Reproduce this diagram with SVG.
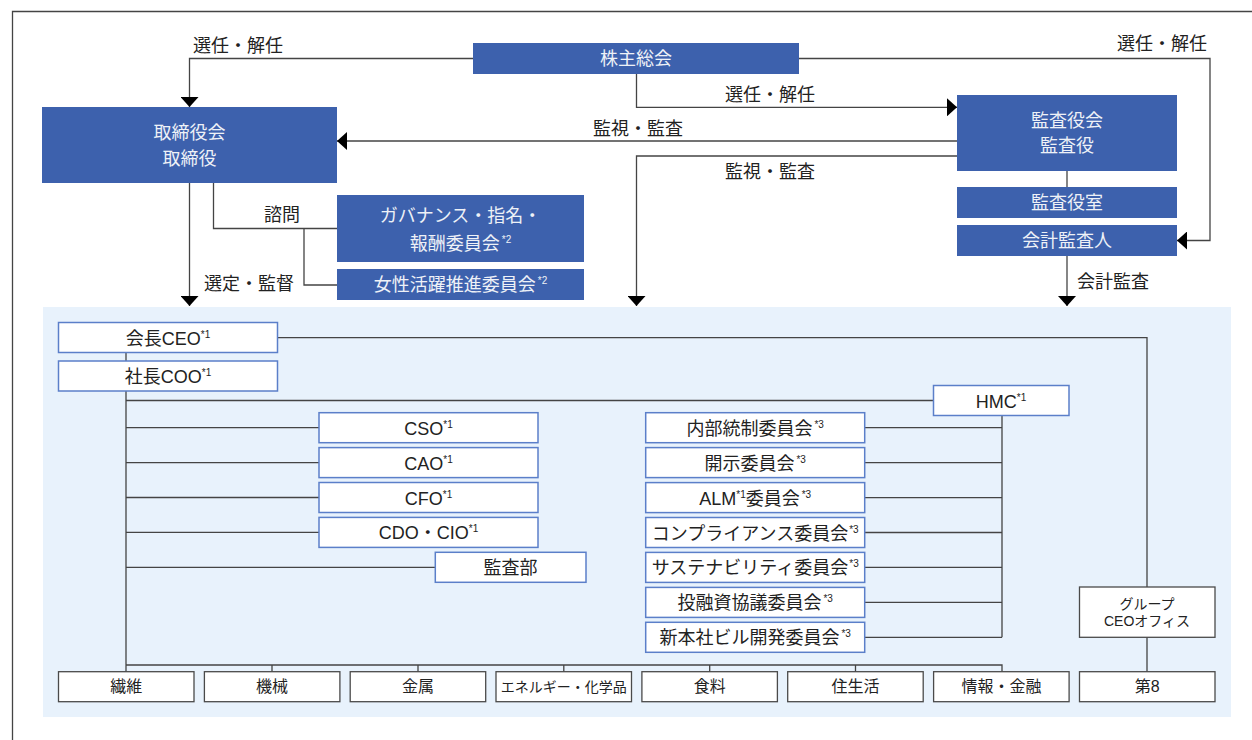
<svg xmlns="http://www.w3.org/2000/svg" width="1252" height="740" viewBox="0 0 1252 740">
<style>
text{font-family:"Liberation Sans","Noto Sans CJK JP",sans-serif;font-size:18px;fill:#222}
.dk rect{fill:#3d61ad}
.dk text{fill:#eef1f7;text-anchor:middle}
.wb rect{fill:#fff;stroke:#5b7fc9;stroke-width:1.5}
.wb text{text-anchor:middle}
.gb rect{fill:#fff;stroke:#4a4a4a;stroke-width:1.3}
.gb text{text-anchor:middle;font-size:16px}
.ln{fill:none;stroke:#444;stroke-width:1.3}
.sup{font-size:10px}
</style>
<defs>
<marker id="ah" viewBox="0 0 10 18" refX="10" refY="9" markerWidth="10" markerHeight="18" markerUnits="userSpaceOnUse" orient="auto">
<path d="M0,0 L10,9 L0,18 Z" fill="#000"/>
</marker>
</defs>
<rect width="1252" height="740" fill="#fff"/>
<path d="M12.5,740 V11.5 H1252" fill="none" stroke="#444" stroke-width="1.3"/>
<rect id="exec-area" x="43" y="307" width="1188" height="410" fill="#e8f2fc"/>

<g id="connectors">
<path class="ln" d="M473,58.5 H189.5 V107" marker-end="url(#ah)"/>
<path class="ln" d="M799,58.5 H1210 V240.5 H1177" marker-end="url(#ah)"/>
<path class="ln" d="M636.5,74 V107.3 H957" marker-end="url(#ah)"/>
<path class="ln" d="M957,141 H337" marker-end="url(#ah)"/>
<path class="ln" d="M957,156 H636.5 V306" marker-end="url(#ah)"/>
<path class="ln" d="M1067,171 V187"/>
<path class="ln" d="M1067,256 V306" marker-end="url(#ah)"/>
<path class="ln" d="M189.5,183 V306" marker-end="url(#ah)"/>
<path class="ln" d="M213.5,183 V228.5 H337 M304,228.5 V285 H337"/>
<path class="ln" d="M126,352.5 V361 M126,391 V671.7 M126,665 H1002 V671.7 M272,665 V671.7 M418,665 V671.7 M563.8,665 V671.7 M709.7,665 V671.7 M855.5,665 V671.7"/>
<path class="ln" d="M126,400.5 H933.5 M277.5,337.7 H1147 V587 M1147,637.3 V671.7"/>
<path class="ln" d="M126,427.7 H319 M126,462.6 H319 M126,497.5 H319 M126,532.4 H319 M126,567.3 H435.3"/>
<path class="ln" d="M1002,415.5 V637.3 M864.7,427.7 H1002 M864.7,462.6 H1002 M864.7,497.6 H1002 M864.7,532.5 H1002 M864.7,567.4 H1002 M864.7,602.4 H1002 M864.7,637.3 H1002"/>
</g>

<g id="labels">
<text x="193" y="51.5">選任・解任</text>
<text x="1117" y="50">選任・解任</text>
<text x="725" y="101">選任・解任</text>
<text x="593" y="135">監視・監査</text>
<text x="725" y="178">監視・監査</text>
<text x="1077" y="288">会計監査</text>
<text x="264" y="220.5">諮問</text>
<text x="204" y="289.5">選定・監督</text>
</g>

<g id="kabunushi" class="dk"><rect x="473" y="43" width="326" height="31"/><text x="636" y="65">株主総会</text></g>
<g id="torishimariyakukai" class="dk"><rect x="42" y="107" width="295" height="76"/><text x="189.5" y="138.5">取締役会</text><text x="189.5" y="164.5">取締役</text></g>
<g id="kansayakukai" class="dk"><rect x="957" y="95" width="220" height="76"/><text x="1067" y="126.5">監査役会</text><text x="1067" y="152">監査役</text></g>
<g id="kansayakushitsu" class="dk"><rect x="957" y="187" width="220" height="31"/><text x="1067" y="209">監査役室</text></g>
<g id="kaikeikansanin" class="dk"><rect x="957" y="225" width="220" height="31"/><text x="1067" y="247">会計監査人</text></g>
<g id="governance" class="dk"><rect x="337" y="195" width="247" height="67"/><text x="460.5" y="222">ガバナンス・指名・</text><text x="460.5" y="249.5">報酬委員会<tspan class="sup" dx="2" dy="-7">*2</tspan></text></g>
<g id="josei" class="dk"><rect x="337" y="269" width="247" height="31"/><text x="460.5" y="291">女性活躍推進委員会<tspan class="sup" dx="2" dy="-7">*2</tspan></text></g>

<g id="ceo" class="wb"><rect x="58.5" y="322.5" width="219" height="30"/><text x="168" y="344.5">会長CEO<tspan class="sup" dy="-7">*1</tspan></text></g>
<g id="coo" class="wb"><rect x="58.5" y="361" width="219" height="30"/><text x="168" y="383">社長COO<tspan class="sup" dy="-7">*1</tspan></text></g>
<g id="hmc" class="wb"><rect x="933.5" y="385.5" width="135.5" height="30"/><text x="1001" y="407.5">HMC<tspan class="sup" dy="-7">*1</tspan></text></g>
<g id="cso" class="wb"><rect x="319" y="412.7" width="219" height="30"/><text x="428.5" y="434.7">CSO<tspan class="sup" dy="-7">*1</tspan></text></g>
<g id="cao" class="wb"><rect x="319" y="447.6" width="219" height="30"/><text x="428.5" y="469.6">CAO<tspan class="sup" dy="-7">*1</tspan></text></g>
<g id="cfo" class="wb"><rect x="319" y="482.5" width="219" height="30"/><text x="428.5" y="504.5">CFO<tspan class="sup" dy="-7">*1</tspan></text></g>
<g id="cdo" class="wb"><rect x="319" y="517.4" width="219" height="30"/><text x="428.5" y="539.4">CDO・CIO<tspan class="sup" dy="-7">*1</tspan></text></g>
<g id="kansabu" class="wb"><rect x="435.3" y="552.3" width="150.7" height="30"/><text x="510.6" y="574.3">監査部</text></g>

<g id="naibutousei" class="wb"><rect x="645.7" y="412.7" width="219" height="30"/><text x="755.2" y="434.7">内部統制委員会<tspan class="sup" dx="2" dy="-7">*3</tspan></text></g>
<g id="kaiji" class="wb"><rect x="645.7" y="447.6" width="219" height="30"/><text x="755.2" y="469.6">開示委員会<tspan class="sup" dx="2" dy="-7">*3</tspan></text></g>
<g id="alm" class="wb"><rect x="645.7" y="482.6" width="219" height="30"/><text x="755.2" y="504.6">ALM<tspan class="sup" dy="-7">*1</tspan><tspan dy="7">委員会</tspan><tspan class="sup" dx="2" dy="-7">*3</tspan></text></g>
<g id="compliance" class="wb"><rect x="645.7" y="517.5" width="219" height="30"/><text x="755.2" y="539.5">コンプライアンス委員会<tspan class="sup" dx="1" dy="-7">*3</tspan></text></g>
<g id="sustainability" class="wb"><rect x="645.7" y="552.4" width="219" height="30"/><text x="755.2" y="574.4">サステナビリティ委員会<tspan class="sup" dx="1" dy="-7">*3</tspan></text></g>
<g id="toyushi" class="wb"><rect x="645.7" y="587.4" width="219" height="30"/><text x="755.2" y="609.4">投融資協議委員会<tspan class="sup" dx="2" dy="-7">*3</tspan></text></g>
<g id="shinhonsha" class="wb"><rect x="645.7" y="622.3" width="219" height="30"/><text x="755.2" y="644.3">新本社ビル開発委員会<tspan class="sup" dx="2" dy="-7">*3</tspan></text></g>

<g id="group-ceo-office" class="gb"><rect x="1079.5" y="587" width="135.5" height="50.3"/><text x="1147" y="608.5" style="font-size:14px">グループ</text><text x="1147" y="626" style="font-size:14px">CEOオフィス</text></g>

<g id="seni" class="gb"><rect x="58.5" y="671.7" width="135.5" height="30"/><text x="126.2" y="692.3">繊維</text></g>
<g id="kikai" class="gb"><rect x="204.4" y="671.7" width="135.5" height="30"/><text x="272.1" y="692.3">機械</text></g>
<g id="kinzoku" class="gb"><rect x="350.2" y="671.7" width="135.5" height="30"/><text x="418" y="692.3">金属</text></g>
<g id="energy" class="gb"><rect x="496" y="671.7" width="135.5" height="30"/><text x="563.8" y="691.8" style="font-size:14px">エネルギー・化学品</text></g>
<g id="shokuryo" class="gb"><rect x="641.9" y="671.7" width="135.5" height="30"/><text x="709.7" y="692.3">食料</text></g>
<g id="juseikatsu" class="gb"><rect x="787.7" y="671.7" width="135.5" height="30"/><text x="855.5" y="692.3">住生活</text></g>
<g id="johokinyu" class="gb"><rect x="933.6" y="671.7" width="135.5" height="30"/><text x="1001.4" y="692.3">情報・金融</text></g>
<g id="dai8" class="gb"><rect x="1079.5" y="671.7" width="135.5" height="30"/><text x="1147.2" y="692.3">第8</text></g>
</svg>
